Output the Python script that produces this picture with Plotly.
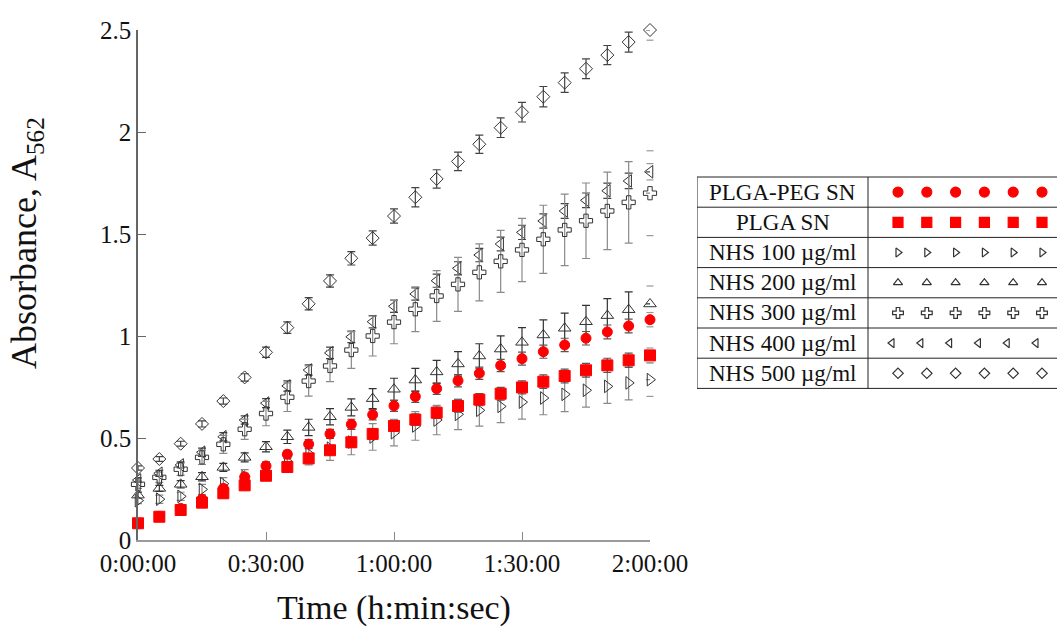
import plotly.graph_objects as go

# ---------------- data ----------------
time_min = [0, 5, 10, 15, 20, 25, 30, 35, 40, 45, 50, 55, 60,
            65, 70, 75, 80, 85, 90, 95, 100, 105, 110, 115, 120]
tick_vals = [0, 30, 60, 90, 120]
tick_text = ["0:00:00", "0:30:00", "1:00:00", "1:30:00", "2:00:00"]
y_tick_vals = [0, 0.5, 1, 1.5, 2, 2.5]
y_tick_text = ["0", "0.5", "1", "1.5", "2", "2.5"]

series_names = ["PLGA-PEG SN", "PLGA SN", "NHS 100 µg/ml", "NHS 200 µg/ml",
                "NHS 300 µg/ml", "NHS 400 µg/ml", "NHS 500 µg/ml"]

plga_peg = [0.08, 0.115, 0.155, 0.2, 0.253, 0.309, 0.363, 0.42, 0.47, 0.52, 0.567, 0.614, 0.658,
            0.703, 0.742, 0.781, 0.817, 0.855, 0.889, 0.923, 0.956, 0.989, 1.02, 1.049, 1.08]
plga_peg_err = [0.01, 0.01, 0.012, 0.015, 0.015, 0.018, 0.02, 0.02, 0.022, 0.022, 0.025, 0.025, 0.027,
                0.028, 0.028, 0.03, 0.03, 0.03, 0.032, 0.032, 0.033, 0.033, 0.034, 0.034, 0.035]

plga = [0.082, 0.114, 0.147, 0.183, 0.229, 0.268, 0.315, 0.358, 0.4, 0.44, 0.479, 0.52, 0.559,
        0.59, 0.624, 0.657, 0.688, 0.717, 0.748, 0.776, 0.804, 0.832, 0.856, 0.881, 0.905]
plga_err = [0.01, 0.01, 0.012, 0.014, 0.015, 0.017, 0.018, 0.02, 0.02, 0.022, 0.024, 0.025, 0.026,
            0.028, 0.028, 0.03, 0.03, 0.031, 0.032, 0.033, 0.034, 0.034, 0.035, 0.035, 0.036]

nhs100 = [0.193, 0.2, 0.214, 0.248, 0.276, 0.31, 0.335, 0.384, 0.423, 0.45, 0.48, 0.505, 0.526,
          0.559, 0.588, 0.616, 0.636, 0.655, 0.676, 0.696, 0.714, 0.734, 0.753, 0.77, 0.786]
nhs100_err = [0.015, 0.02, 0.02, 0.025, 0.03, 0.035, 0.04, 0.05, 0.055, 0.06, 0.062, 0.065, 0.065,
              0.07, 0.072, 0.075, 0.078, 0.08, 0.083, 0.082, 0.085, 0.083, 0.083, 0.083, 0.082]

nhs200 = [0.22, 0.253, 0.273, 0.31, 0.356, 0.405, 0.457, 0.506, 0.552, 0.604, 0.65, 0.693, 0.739,
          0.784, 0.824, 0.863, 0.902, 0.936, 0.969, 1.005, 1.038, 1.07, 1.1, 1.129, 1.157]
nhs200_err = [0.015, 0.015, 0.018, 0.02, 0.02, 0.022, 0.025, 0.033, 0.04, 0.04, 0.042, 0.049, 0.054,
              0.057, 0.057, 0.06, 0.06, 0.065, 0.072, 0.074, 0.074, 0.08, 0.083, 0.087, 0.088]

nhs300 = [0.273, 0.307, 0.347, 0.405, 0.469, 0.543, 0.62, 0.7, 0.779, 0.853, 0.931, 1.0, 1.068,
          1.131, 1.196, 1.253, 1.312, 1.366, 1.422, 1.474, 1.52, 1.565, 1.613, 1.655, 1.7]
nhs300_err = [0.02, 0.025, 0.03, 0.035, 0.044, 0.05, 0.06, 0.07, 0.074, 0.077, 0.09, 0.098, 0.106,
              0.11, 0.124, 0.132, 0.14, 0.152, 0.155, 0.167, 0.175, 0.185, 0.19, 0.2, 0.208]

nhs400 = [0.294, 0.327, 0.368, 0.43, 0.506, 0.588, 0.671, 0.755, 0.833, 0.917, 0.996, 1.07, 1.146,
          1.206, 1.271, 1.332, 1.397, 1.451, 1.508, 1.564, 1.613, 1.665, 1.712, 1.76, 1.805]
nhs400_err = [0.01, 0.015, 0.015, 0.02, 0.02, 0.02, 0.022, 0.025, 0.025, 0.028, 0.028, 0.03, 0.03,
              0.03, 0.032, 0.032, 0.033, 0.034, 0.035, 0.035, 0.036, 0.036, 0.037, 0.038, 0.04]

nhs500 = [0.353, 0.397, 0.472, 0.569, 0.681, 0.797, 0.92, 1.041, 1.158, 1.27, 1.381, 1.48, 1.588,
          1.68, 1.77, 1.856, 1.94, 2.021, 2.097, 2.173, 2.242, 2.31, 2.377, 2.441, 2.5]
nhs500_err = [0.01, 0.012, 0.012, 0.015, 0.015, 0.018, 0.025, 0.028, 0.03, 0.03, 0.033, 0.035, 0.035,
              0.047, 0.045, 0.045, 0.045, 0.048, 0.048, 0.05, 0.048, 0.048, 0.047, 0.049, 0.05]

# ---------------- styling ----------------
FONT = "Liberation Serif, Times New Roman, serif"
RED = "#ff0000"
DARK = "#333333"

W, H = 1057, 628
ML, MR, MT, MB = 138, 0, 30, 88
PW = W - ML - MR
PLOT_RIGHT = 650
TABLE_LEFT = 697

# (values, errors, symbol, size, fill colour, outline colour, error colour, legend size, legend x-shift)
styles = [
    (nhs500, nhs500_err, "diamond-open", 10, None, DARK, "#444444", 8, 0),
    (nhs400, nhs400_err, "triangle-left-open", 11, None, DARK, "#444444", 8, -6),
    (nhs300, nhs300_err, "cross-open", 11, None, DARK, "#8a8a8a", 9, 0),
    (nhs200, nhs200_err, "triangle-up-open", 11, None, DARK, "#333333", 8, 0),
    (nhs100, nhs100_err, "triangle-right-open", 11, None, DARK, "#8a8a8a", 8, 0),
    (plga, plga_err, "square", 11, RED, RED, "#555555", 10, 0),
    (plga_peg, plga_peg_err, "circle", 10, RED, RED, "#555555", 10, 0),
]
legend_rows = {
    "circle": 0, "square": 1, "triangle-right-open": 2, "triangle-up-open": 3,
    "cross-open": 4, "triangle-left-open": 5, "diamond-open": 6,
}

fig = go.Figure()

for vals, errs, sym, size, fill, outline, ecol, lsize, lshift in styles:
    errs_main = errs[:-1] + [0]
    marker = dict(symbol=sym, size=size, line=dict(color=outline, width=1))
    marker["color"] = fill if fill else outline
    fig.add_trace(go.Scatter(
        x=time_min, y=vals, mode="markers", marker=marker,
        error_y=dict(type="data", array=errs_main, visible=True, color=ecol,
                     thickness=1.2, width=4),
        cliponaxis=False, showlegend=False, xaxis="x", yaxis="y",
    ))
    # lone caps at the last time point
    fig.add_trace(go.Scatter(
        x=[time_min[-1], time_min[-1]],
        y=[vals[-1] - errs[-1], vals[-1] + errs[-1]],
        mode="markers",
        marker=dict(symbol="line-ew", size=5, line=dict(color="#999999", width=1.2)),
        cliponaxis=False, showlegend=False, xaxis="x", yaxis="y",
    ))

# ---------------- legend table (pixel coordinates via x2/y2) ----------------
row_top = 177
row_h = 30.2
n_rows = len(series_names)
divider_x = 868
table_right = 1070
shapes = []
shapes.append(dict(type="rect", xref="x2", yref="y2", x0=TABLE_LEFT, x1=table_right,
                   y0=row_top, y1=row_top + n_rows * row_h,
                   line=dict(color="#222222", width=1)))
for i in range(1, n_rows):
    yy = row_top + i * row_h
    shapes.append(dict(type="line", xref="x2", yref="y2", x0=TABLE_LEFT, x1=table_right,
                       y0=yy, y1=yy, line=dict(color="#222222", width=1)))
shapes.append(dict(type="line", xref="x2", yref="y2", x0=divider_x, x1=divider_x,
                   y0=row_top, y1=row_top + n_rows * row_h, line=dict(color="#222222", width=1)))

annotations = []
for i, name in enumerate(series_names):
    annotations.append(dict(
        xref="x2", yref="y2", x=(TABLE_LEFT + divider_x) / 2, y=row_top + (i + 0.5) * row_h,
        text=name, showarrow=False, xanchor="center", yanchor="middle",
        font=dict(family=FONT, size=23, color="#111111"),
    ))

for vals, errs, sym, size, fill, outline, ecol, lsize, lshift in styles:
    r = legend_rows[sym]
    xs = [898 + 28.8 * k + lshift for k in range(6)]
    ys = [row_top + (r + 0.5) * row_h] * 6
    marker = dict(symbol=sym, size=lsize, line=dict(color=outline, width=1.2))
    marker["color"] = fill if fill else outline
    fig.add_trace(go.Scatter(x=xs, y=ys, mode="markers", marker=marker,
                             cliponaxis=False, showlegend=False, xaxis="x2", yaxis="y2",
                             hoverinfo="skip"))

# axis titles
annotations.append(dict(
    xref="paper", yref="paper", x=(27 - ML) / PW, y=(540 - 243) / 510,
    text="Absorbance, A<sub>562</sub>", textangle=-90, showarrow=False,
    xanchor="center", yanchor="middle",
    font=dict(family=FONT, size=36, color="#111111"),
))
annotations.append(dict(
    xref="paper", yref="paper", x=((138 + 650) / 2 - ML) / PW, y=(540 - 608) / 510,
    text="Time (h:min:sec)", showarrow=False, xanchor="center", yanchor="middle",
    font=dict(family=FONT, size=34, color="#111111"),
))

fig.update_layout(
    template="none",
    width=W, height=H,
    margin=dict(l=ML, r=MR, t=MT, b=MB, pad=0, autoexpand=False),
    paper_bgcolor="white", plot_bgcolor="white",
    showlegend=False,
    shapes=shapes, annotations=annotations,
    xaxis=dict(domain=[0, (PLOT_RIGHT - ML) / PW], range=[0, 120], automargin=False,
               tickvals=tick_vals, ticktext=tick_text,
               ticks="inside", ticklen=8, tickwidth=1, tickcolor="#888888",
               showline=True, linecolor="#9a9a9a", linewidth=1.5,
               showgrid=False, zeroline=False,
               tickfont=dict(family=FONT, size=25, color="#111111")),
    yaxis=dict(range=[0, 2.5], tickvals=y_tick_vals, ticktext=y_tick_text, automargin=False,
               ticks="inside", ticklen=8, tickwidth=1, tickcolor="#666666",
               showline=True, linecolor="#666666", linewidth=1.5,
               showgrid=False, zeroline=False,
               tickfont=dict(family=FONT, size=25, color="#111111")),
    xaxis2=dict(domain=[(TABLE_LEFT - ML) / PW, 1], range=[TABLE_LEFT, W], automargin=False,
                visible=False, anchor="y2", fixedrange=True),
    yaxis2=dict(domain=[0, 1], range=[540, 30], visible=False, anchor="x2", automargin=False,
                fixedrange=True),
)

fig.write_html("out.html")
